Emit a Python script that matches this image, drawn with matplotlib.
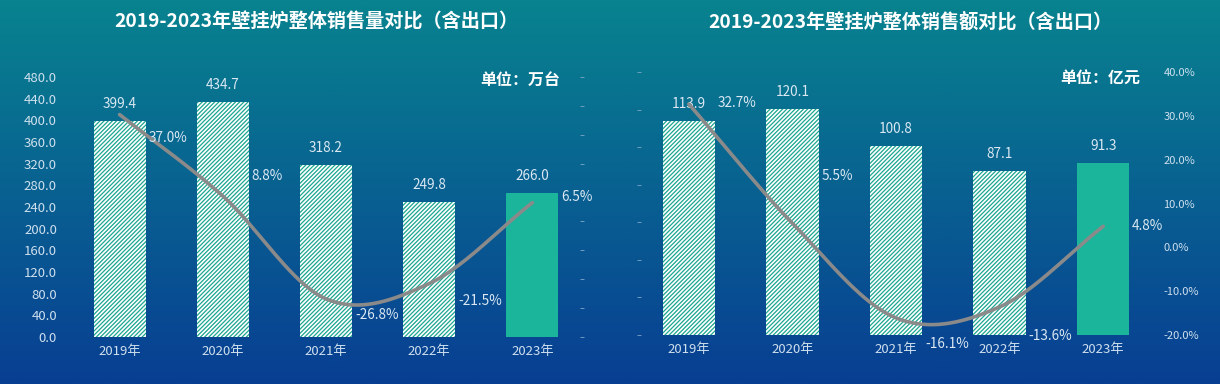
import numpy as np
import matplotlib
matplotlib.use("Agg")
import matplotlib.pyplot as plt

plt.rcParams['font.family'] = ['Noto Sans CJK SC', 'DejaVu Sans']
plt.rcParams['hatch.linewidth'] = 0.9

# ---------------- data ----------------
years = ['2019年', '2020年', '2021年', '2022年', '2023年']
volume = [399.4, 434.7, 318.2, 249.8, 266.0]          # 万台
volume_growth = [37.0, 8.8, -26.8, -21.5, 6.5]         # %
sales = [113.9, 120.1, 100.8, 87.1, 91.3]              # 亿元
sales_growth = [32.7, 5.5, -16.1, -13.6, 4.8]          # %

title_left = '2019-2023年壁挂炉整体销售量对比（含出口）'
title_right = '2019-2023年壁挂炉整体销售额对比（含出口）'
unit_left = '单位：万台'
unit_right = '单位：亿元'

left_ticks = [0, 40, 80, 120, 160, 200, 240, 280, 320, 360, 400, 440, 480]
right_pct_ticks = [-20, -10, 0, 10, 20, 30, 40]

# layout-only offsets (pixels) for growth labels
left_pct_dy = [-23, 20, -16, -17, 6]
right_pct_dy = [1, 47, -26, -29, 0]

TEXT = '#dbe8f3'
TICK = '#cfe0ee'
TEAL = '#1bb59c'
HATCH = '#1ba58f'
LINE = '#8a8a8a'


def catmull_rom(xs, ys, n=40):
    xs = np.asarray(xs, float)
    ys = np.asarray(ys, float)
    P = np.column_stack([xs, ys])
    P = np.vstack([2 * P[0] - P[1], P, 2 * P[-1] - P[-2]])
    out = []
    for i in range(1, len(P) - 2):
        p0, p1, p2, p3 = P[i - 1], P[i], P[i + 1], P[i + 2]
        t = np.linspace(0, 1, n)[:, None]
        seg = 0.5 * ((2 * p1) + (-p0 + p2) * t + (2 * p0 - 5 * p1 + 4 * p2 - p3) * t ** 2
                     + (-p0 + 3 * p1 - 3 * p2 + p3) * t ** 3)
        out.append(seg if i == 1 else seg[1:])
    out = np.vstack(out)
    return out[:, 0], out[:, 1]


fig = plt.figure(figsize=(12.2, 3.84), dpi=100)

# background gradient
bg = fig.add_axes([0, 0, 1, 1], zorder=-10)
top = np.array([8, 131, 143]) / 255
bot = np.array([8, 62, 147]) / 255
g = np.linspace(0, 1, 256)[:, None]
img = top[None, None, :] * (1 - g[:, :, None]) + bot[None, None, :] * g[:, :, None]
img = np.repeat(img, 2, axis=1)
bg.imshow(img, aspect='auto', extent=[0, 1, 0, 1])
bg.set_axis_off()


def style_axis(ax):
    ax.set_facecolor('none')
    for s in ax.spines.values():
        s.set_visible(False)


def draw_panel(ax, values, growth, ylim, yticks, show_left_labels,
               plim, pticks, show_right_labels, pct_dy):
    x = np.arange(len(years))
    style_axis(ax)
    colors_face = ['white'] * (len(values) - 1) + [TEAL]
    hatches = ['/' * 8] * (len(values) - 1) + ['']
    for i, v in enumerate(values):
        ax.bar(x[i], v, width=0.505, color=colors_face[i], edgecolor=HATCH,
               hatch=hatches[i], linewidth=0, zorder=2)
        ax.annotate(f'{v:.1f}', (x[i], v), xytext=(0, 10), textcoords='offset pixels',
                    ha='center', va='bottom', color=TEXT, fontsize=9.8, zorder=5)
    ax.set_xlim(-0.5, len(years) - 0.5)
    ax.set_ylim(*ylim)
    ax.set_xticks(x)
    ax.set_xticklabels(years, color=TICK, fontsize=9.5)
    ax.tick_params(axis='x', length=0, pad=6)
    ax.set_yticks(yticks)
    if show_left_labels:
        ax.set_yticklabels([f'{t:.1f}' for t in yticks], color=TICK, fontsize=9.5)
        ax.tick_params(axis='y', length=0, pad=8)
    else:
        ax.set_yticklabels([])
        ax.tick_params(axis='y', length=3, color='#7fa8c8', width=0.6, direction='in', pad=0)

    ax2 = ax.twinx()
    style_axis(ax2)
    ax2.set_ylim(*plim)
    ax2.set_yticks(pticks)
    if show_right_labels:
        ax2.set_yticklabels([f'{t:.1f}%' for t in pticks], color=TICK, fontsize=8)
        ax2.tick_params(axis='y', length=0, pad=6)
    else:
        ax2.set_yticklabels([])
        ax2.tick_params(axis='y', length=3, color='#7fa8c8', width=0.6, direction='in')
    sx, sy = catmull_rom(x, growth)
    ax2.plot(sx, sy, color=LINE, lw=2.6, solid_capstyle='round', zorder=4)
    for i, gval in enumerate(growth):
        ax2.annotate(f'{gval:.1f}%', (x[i] + 0.28, gval), xytext=(0, pct_dy[i]),
                     textcoords='offset pixels', ha='left', va='center',
                     color=TEXT, fontsize=9.8, zorder=5)
    return ax2


axL = fig.add_axes([68 / 1220, 47 / 384, 516 / 1220, 260 / 384])
draw_panel(axL, volume, volume_growth, (0, 480), left_ticks, True,
           (-40, 50), list(range(-40, 51, 10)), False, left_pct_dy)

axR = fig.add_axes([637 / 1220, 49 / 384, 518 / 1220, 263 / 384])
draw_panel(axR, sales, sales_growth, (0, 140), list(range(0, 141, 20)), False,
           (-20, 40), right_pct_ticks, True, right_pct_dy)

fig.text(316 / 1220, 1 - 22 / 384, title_left, ha='center', va='center',
         color='white', fontsize=13.8, fontweight='bold')
fig.text(910 / 1220, 1 - 22 / 384, title_right, ha='center', va='center',
         color='white', fontsize=13.8, fontweight='bold')
fig.text(520 / 1220, 1 - 80 / 384, unit_left, ha='center', va='center',
         color='white', fontsize=11.5, fontweight='bold')
fig.text(1100 / 1220, 1 - 79 / 384, unit_right, ha='center', va='center',
         color='white', fontsize=11.5, fontweight='bold')

fig.savefig('out.png', dpi=100)
